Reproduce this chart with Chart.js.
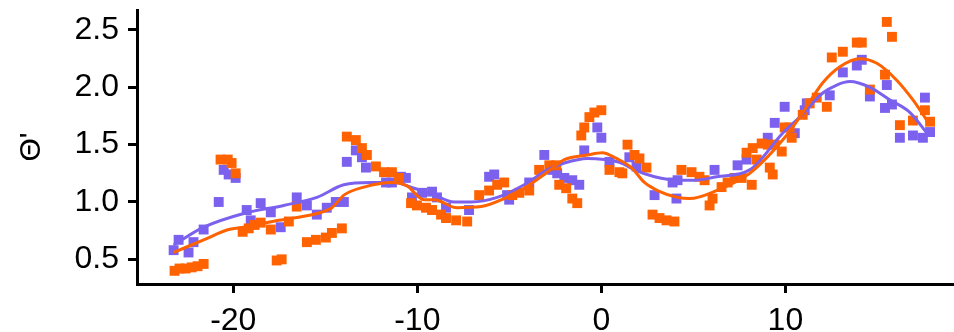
<!DOCTYPE html>
<html>
<head>
<meta charset="utf-8">
<script src="https://cdn.jsdelivr.net/npm/chart.js@4.4.1/dist/chart.umd.min.js"></script>
<style>
  html, body { margin: 0; padding: 0; background: #fff; }
  canvas { display: block; }
</style>
</head>
<body>
<canvas id="grafico" width="954" height="332"></canvas>
<script>
// ================= DADOS =================
const xTicks = [-20, -10, 0, 10];
const yTicks = [0.5, 1.0, 1.5, 2.0, 2.5];

// pontos roxos
const roxoX = [-23.24, -22.97, -22.43, -22.16, -21.61, -20.79, -20.52, -20.25, -19.87, -19.27, -19.05, -18.51, -17.96, -17.42,
  -16.55, -16.00, -15.46, -14.92, -14.43, -13.99, -13.83, -13.34, -13.01, -12.79, -11.70, -11.38, -10.89, -10.62, -10.29,
  -9.74, -9.20, -8.93, -8.44, -7.19, -6.10, -5.82, -5.12, -5.01, -3.92, -3.10, -2.67, -2.40, -2.01, -1.58, -1.20, -0.93,
  -0.22, 0.00, 0.44, 1.52, 1.91, 2.89, 3.87, 4.08, 4.14, 6.15, 7.40, 7.89, 9.04, 9.42, 9.96, 10.51, 11.05, 11.16, 12.41,
  13.12, 13.88, 14.15, 14.59, 15.41, 15.51, 15.79, 16.22, 16.93, 17.47, 17.58, 17.86];
const roxoY = [0.58, 0.67, 0.56, 0.65, 0.76, 1.00, 1.28, 1.24, 1.21, 0.93, 0.84, 0.99, 0.91, 0.78,
  1.04, 0.97, 0.89, 0.95, 1.00, 1.00, 1.35, 1.45, 1.39, 1.30, 1.17, 1.17, 1.22, 1.21, 1.04,
  1.08, 1.09, 1.04, 0.95, 0.93, 1.22, 1.24, 1.06, 1.02, 1.17, 1.41, 1.28, 1.25, 1.21, 1.19, 1.15, 1.45,
  1.65, 1.56, 1.35, 1.39, 1.31, 1.06, 1.17, 1.03, 1.19, 1.28, 1.32, 1.37, 1.56, 1.69, 1.83, 1.60, 1.80, 1.86, 1.93,
  2.13, 2.19, 2.24, 1.92, 1.82, 2.02, 1.85, 1.56, 1.58, 1.56, 1.91, 1.61];

// pontos laranja
const laranjaX = [-23.19, -22.92, -22.59, -22.26, -21.94, -21.61, -20.69, -20.30, -20.09, -19.87, -19.49, -19.16, -18.84,
  -18.51, -17.96, -17.64, -17.37, -16.98, -16.55, -16.00, -15.51, -14.97, -14.64, -14.10, -13.83, -13.34, -13.01, -12.74,
  -12.25, -11.81, -11.38, -11.00, -10.34, -10.02, -9.53, -9.20, -8.71, -8.44, -7.89, -7.29, -6.64, -6.10, -5.66, -5.28,
  -4.84, -4.46, -3.92, -3.38, -2.83, -2.45, -2.29, -1.91, -1.58, -1.31, -1.09, -0.93, -0.65, -0.38, 0.00, 0.44, 0.98,
  1.14, 1.42, 1.80, 2.07, 2.45, 2.78, 3.16, 3.54, 3.97, 4.35, 4.90, 5.33, 5.61, 5.88, 6.04, 6.53, 6.86, 7.24, 7.62, 8.17,
  7.89, 8.22, 8.44, 8.71, 9.04, 9.15, 9.31, 9.42, 9.80, 9.96, 10.23, 10.34, 10.94, 11.32, 11.70, 12.25, 12.52, 13.12,
  13.88, 14.15, 15.51, 15.79, 15.41, 14.59, 16.22, 16.93, 17.58, 17.86];
const laranjaY = [0.40, 0.42, 0.42, 0.43, 0.44, 0.46, 1.37, 1.37, 1.34, 1.25, 0.74, 0.77, 0.80,
  0.82, 0.76, 0.49, 0.50, 0.83, 0.96, 0.65, 0.67, 0.69, 0.73, 0.77, 1.57, 1.54, 1.47, 1.41,
  1.31, 1.26, 1.26, 1.21, 0.99, 0.97, 0.95, 0.93, 0.89, 0.86, 0.84, 0.83, 1.06, 1.10, 1.15, 1.17,
  1.06, 1.08, 1.10, 1.28, 1.32, 1.32, 1.15, 1.12, 1.03, 0.99, 1.58, 1.65, 1.74, 1.78, 1.80, 1.28, 1.26,
  1.25, 1.50, 1.41, 1.38, 1.30, 0.89, 0.86, 0.84, 0.83, 1.28, 1.26, 1.22, 1.19, 0.97, 1.03, 1.13, 1.17, 1.21, 1.21, 1.15,
  1.43, 1.47, 1.37, 1.51, 1.50, 1.30, 1.24, 1.50, 1.44, 1.65, 1.65, 1.56, 1.76, 1.86, 1.91, 1.83, 2.26, 2.31,
  2.39, 2.39, 2.57, 2.44, 2.11, 1.98, 1.67, 1.71, 1.80, 1.70];

// curvas suavizadas
const curvaRoxoX = [-23.24, -21.61, -19.43, -17.26, -15.46, -13.99, -12.52, -11.27, -10.18, -9.09, -8.00, -7.08, -5.66,
  -4.19, -2.94, -2.01, -0.76, 0.16, 1.09, 1.80, 2.89, 4.14, 5.06, 6.26, 8.06, 9.85, 10.78, 12.03, 12.79, 13.50, 14.59,
  15.68, 16.77, 17.69];
const curvaRoxoY = [0.625, 0.78, 0.90, 0.97, 1.04, 1.15, 1.17, 1.17, 1.12, 1.06, 1.00, 1.00, 1.04,
  1.15, 1.28, 1.34, 1.38, 1.37, 1.34, 1.28, 1.22, 1.19, 1.19, 1.22, 1.28, 1.60, 1.74, 1.95, 2.02, 2.05, 2.00,
  1.89, 1.78, 1.60];
const curvaLaranjaX = [-23.24, -21.61, -20.25, -19.43, -17.53, -15.46, -14.64, -13.99, -12.90, -11.38, -10.56, -9.64,
  -9.09, -7.84, -6.53, -5.28, -4.19, -2.94, -2.01, -0.76, 0.05, 0.82, 1.63, 2.34, 3.05, 4.14, 4.79, 6.26, 8.06, 9.85,
  10.78, 12.03, 12.96, 14.04, 14.97, 16.06, 16.93, 17.69];
const curvaLaranjaY = [0.56, 0.67, 0.76, 0.78, 0.84, 0.90, 0.95, 1.06, 1.13, 1.17, 1.14, 1.02,
  1.02, 0.95, 0.96, 1.03, 1.12, 1.26, 1.37, 1.41, 1.43, 1.38, 1.30, 1.17, 1.10, 1.04, 1.03, 1.10, 1.25, 1.54,
  1.74, 2.04, 2.18, 2.25, 2.21, 2.06, 1.89, 1.71];

const ROXO = '#7B61EE';
const LARANJA = '#FF6200';

function pares(xs, ys) {
  return xs.map((x, i) => ({ x: x, y: ys[i] }));
}

// ================= GRAFICO =================
const fonte = { family: '"Liberation Sans", Arial, sans-serif', size: 32 };

new Chart(document.getElementById('grafico'), {
  type: 'scatter',
  data: {
    datasets: [
      {
        type: 'line', data: pares(curvaLaranjaX, curvaLaranjaY), borderColor: LARANJA, borderWidth: 3,
        pointRadius: 0, cubicInterpolationMode: 'monotone', fill: false, order: 0
      },
      {
        type: 'line', data: pares(curvaRoxoX, curvaRoxoY), borderColor: ROXO, borderWidth: 3,
        pointRadius: 0, cubicInterpolationMode: 'monotone', fill: false, order: 1
      },
      {
        data: pares(laranjaX, laranjaY), backgroundColor: LARANJA, borderWidth: 0,
        pointStyle: 'rect', pointRadius: 7, order: 2
      },
      {
        data: pares(roxoX, roxoY), backgroundColor: ROXO, borderWidth: 0,
        pointStyle: 'rect', pointRadius: 7, order: 3
      }
    ]
  },
  options: {
    responsive: false,
    animation: false,
    layout: { autoPadding: false, padding: { top: 10, right: 0, left: 0, bottom: 0 } },
    plugins: { legend: { display: false }, tooltip: { enabled: false } },
    scales: {
      x: {
        type: 'linear', min: -25.23, max: 19.16,
        afterBuildTicks: s => { s.ticks = xTicks.map(v => ({ value: v })); },
        afterFit: s => { s.height = 48; s.paddingLeft = 0; s.paddingRight = 0; },
        grid: { drawOnChartArea: false, tickLength: 9, tickWidth: 3, tickColor: '#000' },
        border: { color: '#000', width: 3 },
        ticks: { color: '#000', font: fonte, padding: 9, maxRotation: 0, autoSkip: false }
      },
      y: {
        type: 'linear', min: 0.285, max: 2.674,
        afterBuildTicks: s => { s.ticks = yTicks.map(v => ({ value: v })); },
        afterFit: s => { s.width = 137; s.paddingTop = 0; s.paddingBottom = 0; },
        grid: { drawOnChartArea: false, tickLength: 9, tickWidth: 3, tickColor: '#000' },
        border: { color: '#000', width: 3 },
        ticks: { color: '#000', font: fonte, padding: 9, autoSkip: false, callback: v => v.toFixed(1) },
        title: { display: true, text: "Θ'", color: '#000', font: { family: fonte.family, size: 30 }, padding: { top: 14 } }
      }
    }
  }
});
</script>
</body>
</html>
